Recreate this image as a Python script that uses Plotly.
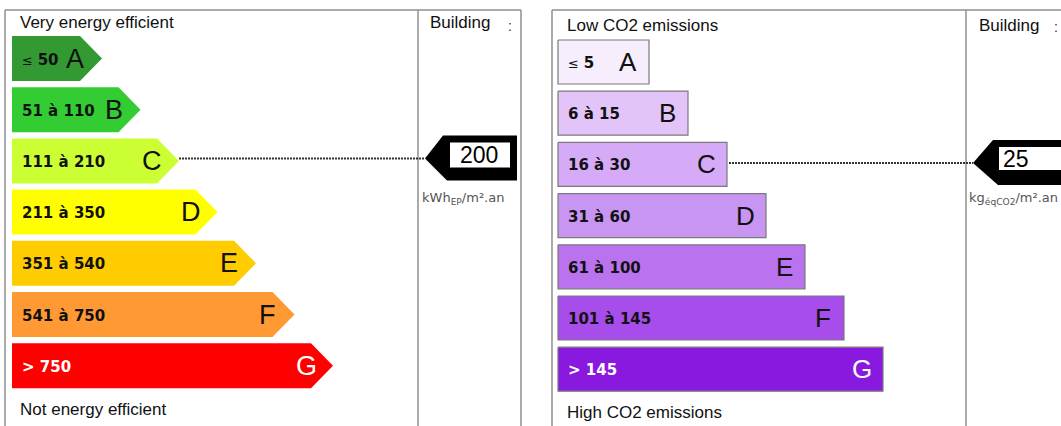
import plotly.graph_objects as go

# ---------------- data ----------------
classes = ["A", "B", "C", "D", "E", "F", "G"]
energy_ranges = ["≤ 50", "51 à 110", "111 à 210", "211 à 350", "351 à 540", "541 à 750", "> 750"]
energy_upper = [50, 110, 210, 350, 540, 750, float("inf")]
energy_colors = ["#339933", "#33cc33", "#ccff33", "#ffff00", "#ffcc00", "#ff9933", "#ff0000"]
ges_ranges = ["≤ 5", "6 à 15", "16 à 30", "31 à 60", "61 à 100", "101 à 145", "> 145"]
ges_upper = [5, 15, 30, 60, 100, 145, float("inf")]
ges_colors = ["#f6edfd", "#e2c4f8", "#d5aaf6", "#c995f2", "#ba72ee", "#a64deb", "#8a19df"]
building_energy = 200
building_ges = 25
energy_unit = "kWh<sub>EP</sub>/m².an"
ges_unit = "kg<sub>éqCO2</sub>/m².an"

# ---------------- layout constants ----------------
W, H = 1061, 426
PITCH = 51.2
E_TOP0, E_H, E_X0, E_TIP0, E_STEP, E_POINT = 36, 45, 12, 102, 38.5, 22
G_TOP0, G_H, G_X0, G_R0, G_STEP = 40, 44, 558, 649, 39
BORDER = "#8f8f8f"
ARIAL = "Liberation Sans, Arial, sans-serif"
VERD = "DejaVu Sans, Verdana, sans-serif"


def class_index(value, uppers):
    for i, u in enumerate(uppers):
        if value <= u:
            return i
    return len(uppers) - 1


fig = go.Figure()
ann = []


def fill_poly(xs, ys, color, line_color=None, line_width=0):
    fig.add_trace(go.Scatter(
        x=xs + [xs[0]], y=ys + [ys[0]], mode="lines", fill="toself",
        fillcolor=color, line=dict(color=line_color or color, width=line_width),
        hoverinfo="skip", showlegend=False))


def range_text(label, white):
    col = "white" if white else "#111"
    if label.startswith("≤"):
        return f"<span style='font-size:13px'>≤</span> <b>{label[2:]}</b>", col
    return f"<b>{label}</b>", col


# ---------------- energy scale ----------------
for i, (c, rng, col) in enumerate(zip(classes, energy_ranges, energy_colors)):
    top = E_TOP0 + i * PITCH
    bot = top + E_H
    cy = (top + bot) / 2
    tip = E_TIP0 + i * E_STEP
    body = tip - E_POINT
    fill_poly([E_X0, body, tip, body, E_X0], [top, top, cy, bot, bot], col)
    white = c == "G"
    txt, tcol = range_text(rng, white)
    ann.append(dict(x=E_X0 + 8, y=cy + 1, text=txt, xanchor="left", yanchor="middle",
                    font=dict(family=VERD, size=15, color=tcol)))
    ann.append(dict(x=tip - 27, y=cy, text=c, xanchor="center", yanchor="middle",
                    font=dict(family=ARIAL, size=27, color="white" if white else "#111")))

# ---------------- GES scale ----------------
for i, (c, rng, col) in enumerate(zip(classes, ges_ranges, ges_colors)):
    top = G_TOP0 + i * PITCH
    bot = top + G_H
    cy = (top + bot) / 2
    right = G_R0 + i * G_STEP
    fill_poly([G_X0, right, right, G_X0], [top, top, bot, bot], col, "#7a7a7a", 1.2)
    white = c == "G"
    txt, tcol = range_text(rng, white)
    ann.append(dict(x=G_X0 + 8, y=cy + 1, text=txt, xanchor="left", yanchor="middle",
                    font=dict(family=VERD, size=15, color=tcol)))
    ann.append(dict(x=right - 21, y=cy, text=c, xanchor="center", yanchor="middle",
                    font=dict(family=ARIAL, size=26, color="white" if white else "#111")))

# ---------------- building pointers ----------------
ei = class_index(building_energy, energy_upper)
e_cy = E_TOP0 + ei * PITCH + E_H / 2 - 2.5
e_tip_class = E_TIP0 + ei * E_STEP
fig.add_trace(go.Scatter(x=[e_tip_class, 425], y=[e_cy, e_cy], mode="lines",
                         line=dict(color="#333", width=2, dash="2px,1px"),
                         hoverinfo="skip", showlegend=False))
fill_poly([425, 443, 517, 517, 447], [e_cy, e_cy - 23, e_cy - 23, e_cy + 22, e_cy + 22], "#000")
fill_poly([450, 510, 510, 450], [e_cy - 16, e_cy - 16, e_cy + 9, e_cy + 9], "#fff")
ann.append(dict(x=479, y=e_cy - 3, text=str(building_energy), xanchor="center", yanchor="middle",
                font=dict(family=ARIAL, size=23, color="#000")))
ann.append(dict(x=420, y=198, text=energy_unit, xanchor="left", yanchor="middle",
                font=dict(family=VERD, size=13, color="#555")))

gi = class_index(building_ges, ges_upper)
g_cy = G_TOP0 + gi * PITCH + G_H / 2 - 1.5
g_right_class = G_R0 + gi * G_STEP
fig.add_trace(go.Scatter(x=[g_right_class + 2, 973], y=[g_cy, g_cy], mode="lines",
                         line=dict(color="#333", width=2, dash="2px,1px"),
                         hoverinfo="skip", showlegend=False))
fill_poly([973, 993, 1080, 1080, 998], [g_cy, g_cy - 23, g_cy - 23, g_cy + 22, g_cy + 22], "#000")
fill_poly([999, 1070, 1070, 999], [g_cy - 16, g_cy - 16, g_cy + 7, g_cy + 7], "#fff")
ann.append(dict(x=1016, y=g_cy - 4, text=str(building_ges), xanchor="center", yanchor="middle",
                font=dict(family=ARIAL, size=23, color="#000")))
ann.append(dict(x=967, y=198, text=ges_unit, xanchor="left", yanchor="middle",
                font=dict(family=VERD, size=13, color="#555")))

# ---------------- headers ----------------
for x, y, t in [(18, 22, "Very energy efficient"), (18, 409, "Not energy efficient"),
                (565, 25, "Low CO2 emissions"), (565, 412, "High CO2 emissions"),
                (428, 22, "Building"), (977, 25, "Building")]:
    ann.append(dict(x=x, y=y, text=t, xanchor="left", yanchor="middle",
                    font=dict(family=ARIAL, size=17, color="#111")))
for x, y in [(510, 26), (1056, 27)]:
    ann.append(dict(x=x, y=y, text=":", xanchor="center", yanchor="middle",
                    font=dict(family=ARIAL, size=14, color="#333")))

for a in ann:
    a.update(xref="x", yref="y", showarrow=False)

# ---------------- frames ----------------
shapes = []
for x0, x1, y0, y1 in [(5, 521, 10, 10), (5, 5, 10, 426), (418, 418, 10, 426), (521, 521, 10, 426),
                       (552, 1061, 10, 10), (552, 552, 10, 426), (966, 966, 10, 426)]:
    shapes.append(dict(type="line", xref="x", yref="y", x0=x0, x1=x1, y0=y0, y1=y1,
                       line=dict(color=BORDER, width=1.5), layer="below"))

fig.update_layout(
    width=W, height=H, margin=dict(l=0, r=0, t=0, b=0),
    paper_bgcolor="white", plot_bgcolor="white",
    xaxis=dict(range=[0, W], visible=False, fixedrange=True),
    yaxis=dict(range=[H, 0], visible=False, fixedrange=True),
    annotations=ann, shapes=shapes, showlegend=False,
)
fig.write_html("out.html", config={"displayModeBar": False},
               post_script="document.body.style.margin='0px';document.body.style.overflow='hidden';")
